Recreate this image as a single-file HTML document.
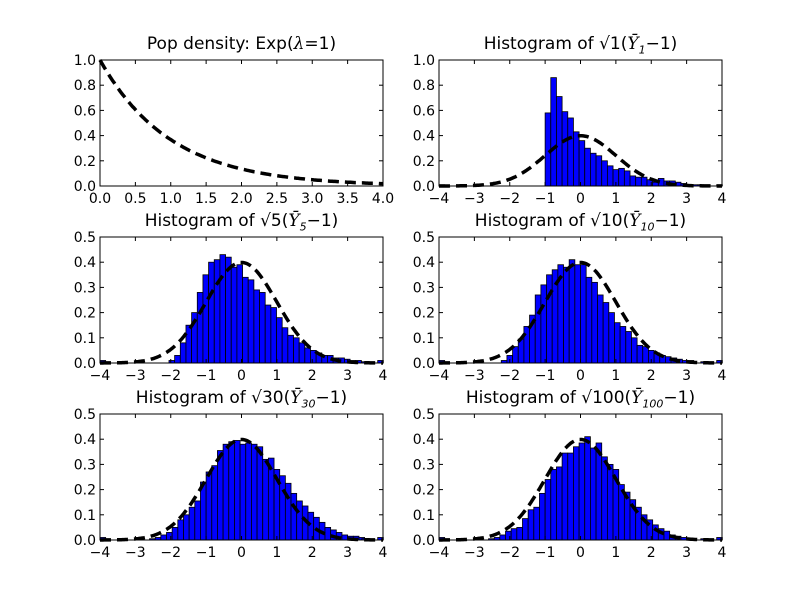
<!DOCTYPE html>
<html><head><meta charset="utf-8"><style>
body{margin:0;background:#fff}
svg{display:block;font-family:"DejaVu Sans","Liberation Sans",sans-serif}
</style></head><body>
<svg id="fig" width="800" height="600"></svg>
<script>
// ---- data ----
const binWidth = 0.16;
const hist1Start = -1.0;
const hist1Values = [0.58,0.86,0.71,0.59,0.54,0.43,0.36,0.30,0.26,0.24,0.20,0.16,0.13,0.14,0.12,0.08,0.07,0.07,0.05,0.03,0.06,0.04,0.04,0.03,0.02,0.01,0.01,0.01];
const hist5Start = -2.05;
const hist5Values = [0.01,0.03,0.08,0.15,0.20,0.28,0.35,0.40,0.41,0.43,0.42,0.38,0.39,0.34,0.33,0.29,0.28,0.23,0.22,0.18,0.14,0.11,0.10,0.08,0.06,0.05,0.04,0.03,0.03,0.02,0.02,0.015,0.01,0.01];
const hist10Start = -2.24;
const hist10Values = [0.01,0.03,0.065,0.095,0.145,0.19,0.27,0.31,0.35,0.37,0.39,0.38,0.41,0.39,0.39,0.34,0.32,0.27,0.24,0.20,0.16,0.145,0.125,0.10,0.07,0.065,0.05,0.04,0.03,0.025,0.02,0.015,0.01,0.01];
const hist30Start = -2.6;
const hist30Values = [0.005,0.01,0.02,0.03,0.05,0.08,0.10,0.13,0.155,0.23,0.27,0.295,0.355,0.38,0.39,0.395,0.38,0.385,0.38,0.37,0.32,0.325,0.28,0.255,0.225,0.185,0.155,0.135,0.11,0.09,0.07,0.05,0.04,0.03,0.02,0.015,0.015,0.01,0.005];
const hist100Start = -2.6;
const hist100Values = [0.005,0.01,0.02,0.035,0.045,0.05,0.085,0.12,0.13,0.185,0.24,0.28,0.29,0.345,0.345,0.37,0.385,0.41,0.365,0.385,0.33,0.30,0.28,0.22,0.19,0.16,0.13,0.10,0.08,0.06,0.045,0.035,0.02,0.015,0.01,0.005];
const tailValues = [0.01,0.005,0.005,0.005,0.01];
const tailPositions = [-4.0,-3.5,-3.0,3.4,3.85];
const xTicksExp = ["0.0","0.5","1.0","1.5","2.0","2.5","3.0","3.5","4.0"];
const xTicksNorm = ["−4","−3","−2","−1","0","1","2","3","4"];
const yTicks1 = ["0.0","0.2","0.4","0.6","0.8","1.0"];
const yTicks05 = ["0.0","0.1","0.2","0.3","0.4","0.5"];

const NS="http://www.w3.org/2000/svg";
const fig=document.getElementById('fig');
function mk(tag,attrs,parent){const e=document.createElementNS(NS,tag);for(const k in attrs)e.setAttribute(k,attrs[k]);(parent||fig).appendChild(e);return e;}

const panels=[
 {x0:100,y0:60,kind:'exp',title:'Pop density: Exp(<i>λ</i>=1)'},
 {x0:439,y0:60,kind:'h',start:hist1Start,vals:hist1Values,ymax:1,title:'Histogram of √1(<i>Ȳ</i><sub>1</sub>−1)',name:'n1'},
 {x0:100,y0:237,kind:'h',start:hist5Start,vals:hist5Values,ymax:0.5,title:'Histogram of √5(<i>Ȳ</i><sub>5</sub>−1)',name:'n5'},
 {x0:439,y0:237,kind:'h',start:hist10Start,vals:hist10Values,ymax:0.5,title:'Histogram of √10(<i>Ȳ</i><sub>10</sub>−1)',name:'n10'},
 {x0:100,y0:414,kind:'h',start:hist30Start,vals:hist30Values,ymax:0.5,title:'Histogram of √30(<i>Ȳ</i><sub>30</sub>−1)',name:'n30'},
 {x0:439,y0:414,kind:'h',start:hist100Start,vals:hist100Values,ymax:0.5,title:'Histogram of √100(<i>Ȳ</i><sub>100</sub>−1)',name:'n100'}
];
const W=283,H=126;
panels.forEach((p,pi)=>{
 const g=mk('g',{});
 
 
 const xmin=p.kind==='exp'?0:-4, xmax=p.kind==='exp'?4:4;
 const ymax=p.kind==='exp'?1:p.ymax;
 const sx=v=>p.x0+(v-xmin)/(xmax-xmin)*W;
 const sy=v=>p.y0+H-(v/ymax)*H;
 if(p.kind==='h'){
  p.vals.forEach((v,i)=>{
   const a=p.start+i*binWidth;
   const r=mk('rect',{x:sx(a),y:sy(v),width:sx(a+binWidth)-sx(a),height:sy(0)-sy(v),fill:'#0000ff',stroke:'#000','stroke-width':0.8},g);
   
   
  });
  tailValues.forEach((v,i)=>{
   const a=tailPositions[i];
   const r=mk('rect',{x:sx(a),y:sy(v),width:sx(a+binWidth)-sx(a),height:sy(0)-sy(v),fill:'#0000ff',stroke:'#000','stroke-width':0.8},g);
   
   
  });
 }
 // dashed curve
 let pts=[];
 for(let i=0;i<=200;i++){const x=xmin+(xmax-xmin)*i/200;const y=p.kind==='exp'?Math.exp(-x):Math.exp(-x*x/2)/Math.sqrt(2*Math.PI);pts.push(sx(x).toFixed(1)+','+sy(y).toFixed(1));}
 const c=mk('polyline',{points:pts.join(' '),fill:'none',stroke:'#000','stroke-width':3.5,'stroke-dasharray':'11,6'},g);
 
 
 // frame
 const f=mk('rect',{x:p.x0,y:p.y0,width:W,height:H,fill:'none',stroke:'#000','stroke-width':1},g);
 
 
 // ticks
 const xt=p.kind==='exp'?xTicksExp:xTicksNorm;
 xt.forEach((t,i)=>{
  const v=xmin+(xmax-xmin)*i/(xt.length-1);const X=sx(v);
  mk('line',{x1:X,x2:X,y1:p.y0+H,y2:p.y0+H-4,stroke:'#000'},g);
  mk('line',{x1:X,x2:X,y1:p.y0,y2:p.y0+4,stroke:'#000'},g);
  const tx=mk('text',{x:X,y:p.y0+H+17,'font-size':14,'text-anchor':'middle'},g);tx.textContent=t;
  
  
 });
 const yt=ymax===1?yTicks1:yTicks05;
 yt.forEach((t,i)=>{
  const v=ymax*i/(yt.length-1);const Y=sy(v);
  mk('line',{x1:p.x0,x2:p.x0+4,y1:Y,y2:Y,stroke:'#000'},g);
  mk('line',{x1:p.x0+W,x2:p.x0+W-4,y1:Y,y2:Y,stroke:'#000'},g);
  const tx=mk('text',{x:p.x0-4,y:Y+5,'font-size':14,'text-anchor':'end'},g);tx.textContent=t;
  
  
 });
 // title
 const fo=mk('foreignObject',{x:p.x0-40,y:p.y0-30,width:W+80,height:28},g);
 const d=document.createElement('div');
 
 
 d.style.cssText='font:17px "DejaVu Sans","Liberation Sans",sans-serif;text-align:center;line-height:28px;white-space:nowrap';
 d.innerHTML=p.title.replace(/<i>/g,'<i style="font-family:\'DejaVu Serif\',serif">').replace(/<sub>/g,'<sub style="font-size:11px;font-style:italic">');
 fo.appendChild(d);
});
</script>
</body></html>
